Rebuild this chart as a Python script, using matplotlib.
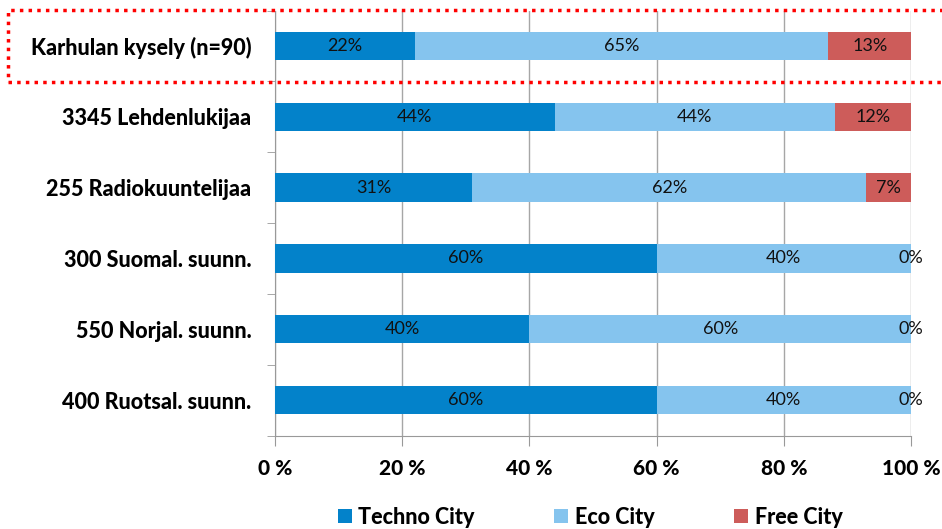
import matplotlib
matplotlib.use('Agg')
import matplotlib.pyplot as plt
from matplotlib.patches import Rectangle
import numpy as np

# Data
categories = ['Karhulan kysely (n=90)', '3345 Lehdenlukijaa', '255 Radiokuuntelijaa',
              '300 Suomal. suunn.', '550 Norjal. suunn.', '400 Ruotsal. suunn.']
techno = [22, 44, 31, 60, 40, 60]
eco = [65, 44, 62, 40, 60, 40]
free = [13, 12, 7, 0, 0, 0]
series_names = ['Techno City', 'Eco City', 'Free City']
colors = ['#0382CA', '#85C4EE', '#CD5C5A']

plt.rcParams['font.family'] = ['Lato', 'DejaVu Sans']

fig = plt.figure(figsize=(9.42, 5.29), dpi=100)
ax = fig.add_axes([275/942, 1 - 435.5/529, 636/942, 425/529])

y = np.arange(len(categories))
left = np.zeros(len(categories))
handles = []
for vals, name, col in zip([techno, eco, free], series_names, colors):
    vals = np.array(vals, dtype=float)
    h = ax.barh(y, vals, left=left, height=0.4, color=col, label=name, zorder=3)
    handles.append(h)
    for yi, l, v in zip(y, left, vals):
        ax.text(l + v / 2, yi, '%d%%' % v, ha='center', va='center',
                fontsize=13, color='#111111', zorder=4)
    left += vals

ax.set_xlim(0, 100)
ax.set_ylim(len(categories) - 0.5, -0.5)
ax.set_xticks(np.arange(0, 101, 20))
ax.set_xticklabels(['%d %%' % t for t in range(0, 101, 20)],
                   fontsize=15, fontweight='black')
ax.set_yticks(y)
ax.set_yticklabels(categories, fontsize=15.5, fontweight='black')
ax.tick_params(axis='y', length=0, pad=17)
ax.set_yticks(np.arange(-0.5, len(categories)), minor=True)
ax.tick_params(axis='y', which='minor', length=6, color='#999999')
ax.tick_params(axis='x', length=7, color='#999999', pad=10)
ax.grid(axis='x', color='#a6a6a6', linewidth=1, zorder=0)

for s in ['top', 'right']:
    ax.spines[s].set_visible(False)
for s in ['left', 'bottom']:
    ax.spines[s].set_color('#999999')

# highlight box around first row
fig.patches.append(Rectangle((8/942, 1 - 82/529), 1.0, 72/529,
                             transform=fig.transFigure, fill=False,
                             edgecolor='red', linestyle=(0, (1, 1.5)),
                             linewidth=2.5, clip_on=False))

leg = fig.legend(handles=handles, labels=series_names, loc='center',
                 bbox_to_anchor=(590/942, 1 - 517/529), ncol=3, frameon=False,
                 prop={'size': 15.5, 'weight': 'black'}, handlelength=0.65,
                 handleheight=0.65, handletextpad=0.3, columnspacing=3.7)

fig.savefig('out.png', dpi=100)
